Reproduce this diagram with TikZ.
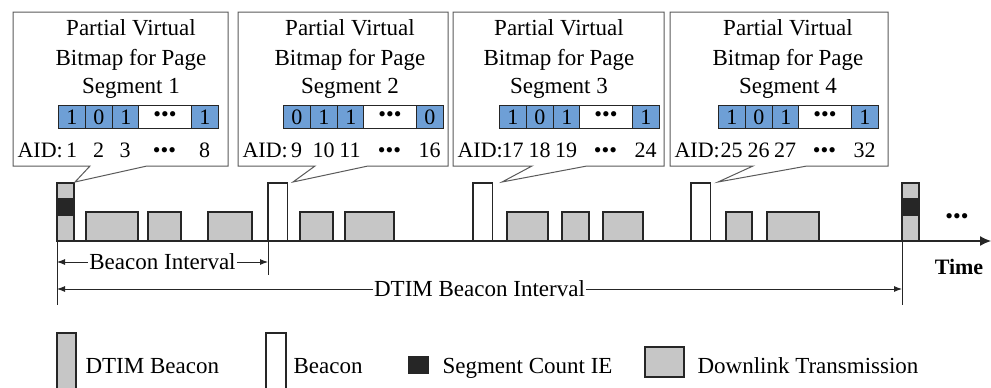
\documentclass[tikz,border=0pt]{standalone}
\usepackage{fontspec}
\setmainfont{Liberation Serif}
\newfontfamily\figserif{Liberation Serif}
\usetikzlibrary{arrows.meta}

\definecolor{framegray}{HTML}{C6C6C6}
\definecolor{bitblue}{HTML}{6E9FD6}
\definecolor{ink}{HTML}{262626}
\definecolor{boxline}{HTML}{5A5A5A}

% one row of bitmap cells: #1 prefix, #2 left x, #3-#5 first bits, #6 last bit
\newcommand{\pvbbits}[6]{%
  \node[bitcell] (#1c1) at (#2,105) {#3};
  \node[bitcell] (#1c2) at (#2+27,105) {#4};
  \node[bitcell] (#1c3) at (#2+54,105) {#5};
  \node[bitcell, fill=white, minimum width=53pt] (#1c4) at (#2+80,105) {•••};
  \node[bitcell] (#1c5) at (#2+133,105) {#6};
}
% AID labels under the cells: #1 prefix, #2 left x of cells, #3 box left, #4-#6 first ids, #7 last id
\newcommand{\pvbaids}[7]{%
  \node[aidtxt, anchor=base west] (#1aid) at (#3+4,157) {AID:};
  \node[aidtxt] (#1a1) at (#2+13.5,157) {#4};
  \node[aidtxt] (#1a2) at (#2+40.5,157) {#5};
  \node[aidtxt] (#1a3) at (#2+67,157) {#6};
  \node[aidtxt] (#1a4) at (#2+106.5,157) {•••};
  \node[aidtxt] (#1a5) at (#2+146.5,157) {#7};
}
% three-line heading of a callout
\newcommand{\pvbtitle}[3]{%
  \node[titletxt] (#1h1) at (#2,35) {Partial Virtual};
  \node[titletxt] (#1h2) at (#2,65) {Bitmap for Page};
  \node[titletxt] (#1h3) at (#2,93) {Segment #3};
}

\begin{document}
\begin{tikzpicture}[x=1pt, y=-1pt, line width=1.1pt, draw=ink,
  every node/.append style={font=\figserif},
  frame/.style={draw=ink, line width=1.1pt, inner sep=0pt, outer sep=0pt, anchor=south west},
  dtimframe/.style={frame, fill=framegray, minimum width=17pt, minimum height=58pt},
  beaconframe/.style={frame, fill=white, minimum width=19.5pt, minimum height=58pt},
  dlframe/.style={frame, fill=framegray, minimum height=29pt},
  segframe/.style={fill=ink, draw=none, inner sep=0pt, outer sep=0pt, anchor=north west,
                   minimum width=16pt, minimum height=18pt},
  callout/.style={draw=boxline, line width=1pt, fill=white},
  bitcell/.style={draw=ink, line width=0.9pt, fill=bitblue, anchor=north west, inner sep=0pt,
                  minimum width=27pt, minimum height=23pt, font=\figserif\fontsize{22}{22}\selectfont},
  aidtxt/.style={anchor=base, inner sep=0pt, font=\figserif\fontsize{22}{22}\selectfont},
  titletxt/.style={anchor=base, inner sep=0pt, font=\figserif\fontsize{23}{23}\selectfont},
  labeltxt/.style={font=\figserif\fontsize{23}{23}\selectfont, fill=white, inner sep=1pt},
  legendtxt/.style={anchor=base west, inner sep=0pt, font=\figserif\fontsize{23}{23}\selectfont},
  dimarrow/.style={line width=0.9pt, {Latex[length=8pt,width=6pt]}-{Latex[length=8pt,width=6pt]}},
  marker/.style={line width=0.9pt}
]
\useasboundingbox (0,0) rectangle (991,388);
\clip (0,0) rectangle (991,388);

% ---------- time axis ----------
\coordinate (t0) at (57,241);
\coordinate (tend) at (991,241);
\draw[line width=1.1pt, -{Latex[length=11pt,width=10pt]}] (t0) -- (tend);

% boundary markers below the axis
\coordinate (tb2) at (268,241);
\coordinate (tdt2) at (902,241);
\coordinate (m0) at (57,305);
\coordinate (mb2) at (268,275);
\coordinate (mdt2) at (902,305);
\draw[marker] (t0) -- (m0);
\draw[marker] (tb2) -- (mb2);
\draw[marker] (tdt2) -- (mdt2);

% ---------- frames on the axis ----------
\node[dtimframe] (dtim1) at (57,241) {};
\node[segframe] (seg1) at (57.5,198) {};
\node[dlframe, minimum width=52pt] (dl1) at (86,241) {};
\node[dlframe, minimum width=33pt] (dl2) at (148,241) {};
\node[dlframe, minimum width=44pt] (dl3) at (208,241) {};

\node[beaconframe] (bcn2) at (268,241) {};
\node[dlframe, minimum width=33pt] (dl4) at (300,241) {};
\node[dlframe, minimum width=49pt] (dl5) at (345,241) {};

\node[beaconframe] (bcn3) at (473,241) {};
\node[dlframe, minimum width=41pt] (dl6) at (507,241) {};
\node[dlframe, minimum width=27pt] (dl7) at (562,241) {};
\node[dlframe, minimum width=40pt] (dl8) at (603,241) {};

\node[beaconframe] (bcn4) at (691,241) {};
\node[dlframe, minimum width=26pt] (dl9) at (726,241) {};
\node[dlframe, minimum width=52pt] (dl10) at (767,241) {};

\node[dtimframe] (dtim2) at (902,241) {};
\node[segframe] (seg2) at (902.5,198) {};

\node[font=\figserif\fontsize{22}{22}\selectfont, inner sep=0pt] (more) at (957,219) {•••};
\node[font=\figserif\bfseries\fontsize{22}{22}\selectfont, inner sep=0pt] (timelbl) at (959,267) {Time};

% ---------- interval dimensions ----------
\coordinate (bi0) at (57,262);
\coordinate (bi1) at (268,262);
\draw[dimarrow] (bi0) -- node[labeltxt] (bilbl) {Beacon Interval} (bi1);
\coordinate (di0) at (57,289);
\coordinate (di1) at (902,289);
\draw[dimarrow] (di0) -- node[labeltxt] (dilbl) {DTIM Beacon Interval} (di1);

% ---------- callouts ----------
\coordinate (tip1) at (75,182);
\coordinate (tip2) at (293,182);
\coordinate (tip3) at (502,182);
\coordinate (tip4) at (718,182);

\draw[callout] (13,12) -- (228,12) -- (228,166) -- (147,166) -- (tip1) -- (90,166) -- (13,166) -- cycle;
\draw[callout] (238,12) -- (448,12) -- (448,166) -- (368,166) -- (tip2) -- (315,166) -- (238,166) -- cycle;
\draw[callout] (453,12) -- (664,12) -- (664,166) -- (587,166) -- (tip3) -- (532,166) -- (453,166) -- cycle;
\draw[callout] (670,12) -- (888,12) -- (888,166) -- (807,166) -- (tip4) -- (753,166) -- (670,166) -- cycle;

\pvbtitle{p1}{131}{1}
\pvbtitle{p2}{350}{2}
\pvbtitle{p3}{559}{3}
\pvbtitle{p4}{788}{4}

\pvbbits{p1}{58}{1}{0}{1}{1}
\pvbbits{p2}{283}{0}{1}{1}{0}
\pvbbits{p3}{499}{1}{0}{1}{1}
\pvbbits{p4}{718}{1}{0}{1}{1}

\pvbaids{p1}{58}{13}{1}{2}{3}{8}
\pvbaids{p2}{283}{238}{9}{10}{11}{16}
\pvbaids{p3}{499}{453}{17}{18}{19}{24}
\pvbaids{p4}{718}{670}{25}{26}{27}{32}

% ---------- legend ----------
\node[frame, anchor=north west, fill=framegray, minimum width=19pt, minimum height=62pt] (lgdtim) at (57,333) {};
\node[legendtxt] (lgdtimtxt) at (85,373) {DTIM Beacon};
\node[frame, anchor=north west, fill=white, minimum width=20pt, minimum height=62pt] (lgbcn) at (266,333) {};
\node[legendtxt] (lgbcntxt) at (293,373) {Beacon};
\node[segframe, minimum width=21pt, minimum height=18pt] (lgseg) at (408,356) {};
\node[legendtxt] (lgsegtxt) at (442,373) {Segment Count IE};
\node[frame, anchor=north west, fill=framegray, minimum width=39pt, minimum height=30pt] (lgdl) at (645,347) {};
\node[legendtxt] (lgdltxt) at (697,373) {Downlink Transmission};
\end{tikzpicture}
\end{document}
